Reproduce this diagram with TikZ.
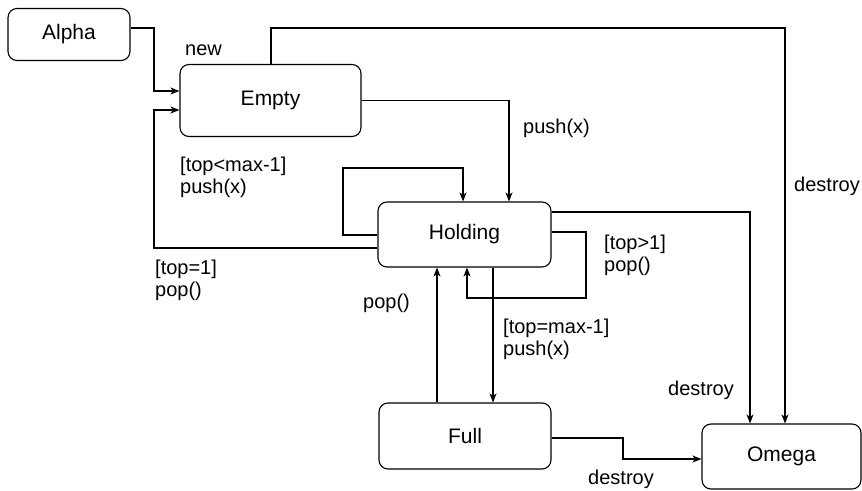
\documentclass[tikz,border=0pt]{standalone}
\usepackage{fontspec}
\setmainfont{Liberation Sans}
\usetikzlibrary{arrows.meta}
\begin{document}
\begin{tikzpicture}[x=1pt,y=-1pt,
  state/.style={draw, rounded corners=9pt, line width=1.1pt, inner sep=0pt, font=\fontsize{21}{23}\selectfont},
  arr/.style={line width=1.1pt, -{Stealth[length=9pt,width=7pt,inset=2.5pt]}},
  lbl/.style={inner sep=0pt, align=left, font=\fontsize{20}{21.5}\selectfont}]
\useasboundingbox (0,0) rectangle (862,490);
\node[state, minimum width=122pt, minimum height=52pt] (Alpha) at (69,34.5) {Alpha};
\node[state, minimum width=181pt, minimum height=72pt] (Empty) at (270.5,100.5) {Empty};
\node[state, minimum width=173pt, minimum height=65pt] (Holding) at (464.5,234.5) {Holding};
\node[state, minimum width=172pt, minimum height=66pt] (Full) at (465,436) {Full};
\node[state, minimum width=159pt, minimum height=65pt] (Omega) at (781.5,456.5) {Omega};

% edges
\draw[arr] ([yshift=6.5pt]Alpha.east) -- (154,28) -- (154,91) -- ([yshift=9.5pt]Empty.west);
\draw[arr] ([yshift=-13.5pt]Holding.west) -- (154,248) -- (154,110) -- ([yshift=-9.5pt]Empty.west);
\draw[arr] ([xshift=0.5pt]Empty.north) -- (271,28) -- (785,28) -- ([xshift=3.5pt]Omega.north);
\draw[arr] (Empty.east) -- (509,100.5) -- ([xshift=44.5pt]Holding.north);
\draw[arr] ([yshift=-0.5pt]Holding.west) -- (343,235) -- (343,168) -- (463,168) -- ([xshift=-1.5pt]Holding.north);
\draw[arr] ([yshift=22.5pt]Holding.east) -- (750,212) -- ([xshift=-31.5pt]Omega.north);
\draw[arr] ([yshift=2.5pt]Holding.east) -- (586,232) -- (586,298) -- (467,298) -- ([xshift=2.5pt]Holding.south);
\draw[arr] ([xshift=-28pt]Full.north) -- ([xshift=-27.5pt]Holding.south);
\draw[arr] ([xshift=28.5pt]Holding.south) -- ([xshift=28pt]Full.north);
\draw[arr] ([yshift=-2pt]Full.east) -- (623,438) -- (623,459) -- ([yshift=-2.5pt]Omega.west);

% labels
\node[lbl, anchor=base west] (lnew) at (185,55) {new};
\node[lbl, anchor=north west] (ltopless) at (180,157) {[top<max-1]\\push(x)};
\node[lbl, anchor=north west] (ltop1) at (155,260) {[top=1]\\pop()};
\node[lbl, anchor=base west] (lpush) at (523,133) {push(x)};
\node[lbl, anchor=base west] (ldestroy1) at (794,191) {destroy};
\node[lbl, anchor=north west] (ltopgt) at (604,235) {[top>1]\\pop()};
\node[lbl, anchor=base west] (lpop) at (363,308) {pop()};
\node[lbl, anchor=north west] (ltopmax) at (503,319) {[top=max-1]\\push(x)};
\node[lbl, anchor=base west] (ldestroy2) at (668,395) {destroy};
\node[lbl, anchor=base west] (ldestroy3) at (588,484) {destroy};
\end{tikzpicture}
\end{document}
